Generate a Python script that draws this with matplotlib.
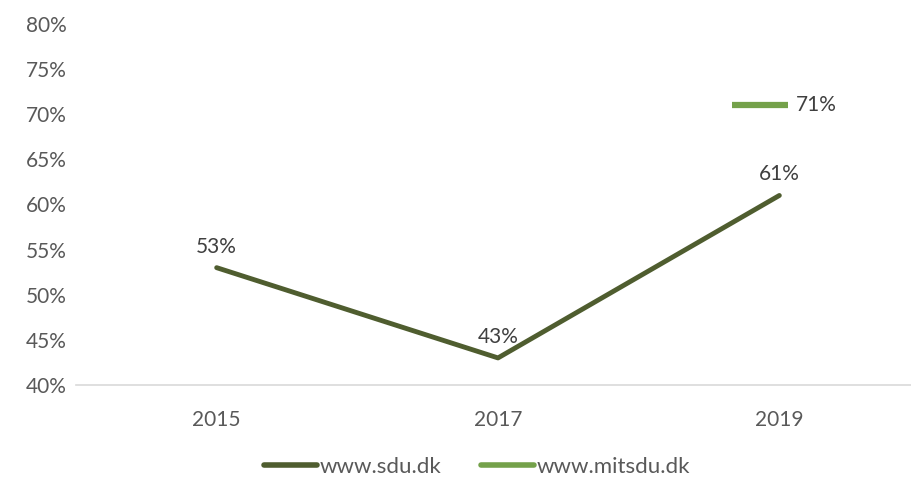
import matplotlib
matplotlib.use('Agg')
from matplotlib import pyplot as plt
from matplotlib.lines import Line2D
import matplotlib.transforms as mtransforms

years = ['2015', '2017', '2019']
sdu = [53, 43, 61]
mitsdu = [None, None, 71]
yticks = [40, 45, 50, 55, 60, 65, 70, 75, 80]

sdu_color = '#4F5D2F'
mitsdu_color = '#74A14A'
text_color = '#595959'

plt.rcParams['font.family'] = ['Lato', 'DejaVu Sans']

fig = plt.figure(figsize=(9.11, 4.79), dpi=100)
ax = fig.add_axes([76 / 911, 94 / 479, 844 / 911, 361 / 479])

x = list(range(len(years)))
ax.plot(x, sdu, color=sdu_color, linewidth=3.5, solid_capstyle='round', zorder=3)
for xi, v in zip(x, sdu):
    ax.annotate(f'{v}%', (xi, v), xytext=(0, 8), textcoords='offset points',
                ha='center', va='bottom', fontsize=15, color='#404040')

# single-point series drawn as a short dash, like the reference
shift = mtransforms.offset_copy(ax.transData, fig=fig, x=-19, y=0, units='dots')
for xi, v in zip(x, mitsdu):
    if v is None:
        continue
    ax.plot([xi], [v], marker='_', markersize=40, markeredgewidth=4.5,
            color=mitsdu_color, transform=shift, zorder=3)
    ax.annotate(f'{v}%', (xi, v), xytext=(12, 0), textcoords='offset points',
                ha='left', va='center', fontsize=15, color='#404040')

ax.set_xlim(-0.5, 2.5)
ax.set_ylim(40, 80)
ax.set_yticks(yticks)
ax.set_yticklabels([f'{t}%' for t in yticks])
ax.set_xticks(x)
ax.set_xticklabels(years)
ax.tick_params(axis='both', length=0, labelsize=15, labelcolor=text_color)
ax.tick_params(axis='x', pad=18)
ax.tick_params(axis='y', pad=7)
for s in ['top', 'right', 'left']:
    ax.spines[s].set_visible(False)
ax.spines['bottom'].set_color('#D9D9D9')
ax.spines['bottom'].set_linewidth(1.2)

handles = [Line2D([], [], color=sdu_color, linewidth=4, solid_capstyle='round'),
           Line2D([], [], color=mitsdu_color, linewidth=4, solid_capstyle='round')]
fig.legend(handles, ['www.sdu.dk', 'www.mitsdu.dk'], loc='center',
           bbox_to_anchor=(477 / 911, 1 - 467 / 479), ncol=2, frameon=False,
           fontsize=16, labelcolor=text_color, handlelength=2.4,
           handletextpad=0.1, columnspacing=1.8)

fig.savefig('out.png', dpi=100)
